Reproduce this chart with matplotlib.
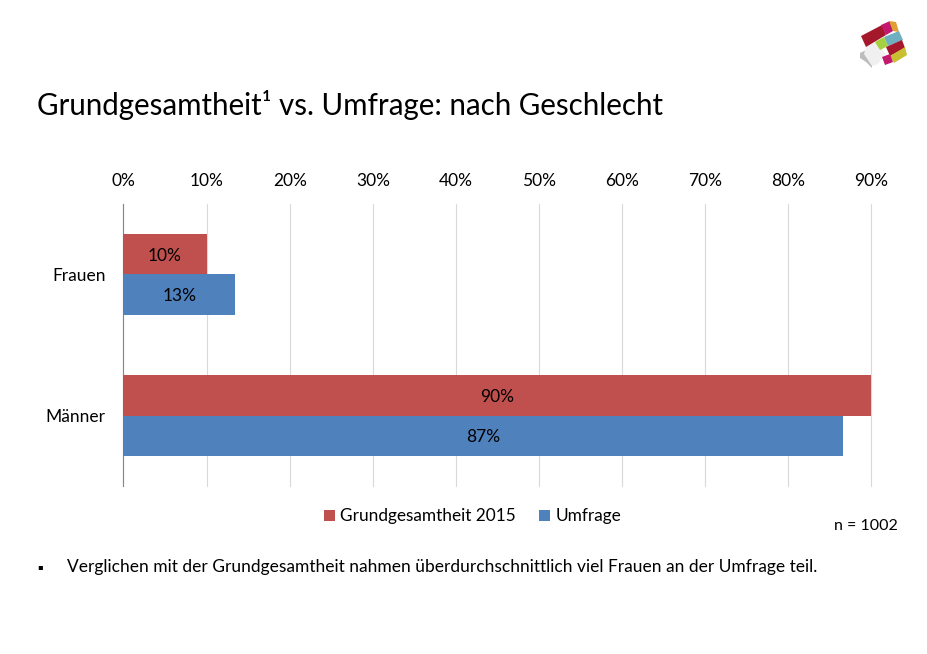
from matplotlib import pyplot as plt
from matplotlib.patches import Polygon

categories = ["Frauen", "Männer"]
grundgesamtheit = [10.0, 90.0]
umfrage = [13.4, 86.6]
grund_labels = ["10%", "90%"]
umfrage_labels = ["13%", "87%"]
x_ticks = [0, 10, 20, 30, 40, 50, 60, 70, 80, 90]

W = 928
H = 654
red = "#C0504D"
blue = "#4F81BD"
bar_h = 0.284

plt.rcParams["font.family"] = ["Lato", "DejaVu Sans"]
fig = plt.figure(figsize=(W / 100, H / 100), dpi=100, facecolor="white")

# full page layer in pixel coords for text and logo
page = fig.add_axes([0, 0, 1, 1])
page.set_xlim(0, W)
page.set_ylim(H, 0)
page.axis("off")

ax = fig.add_axes([123.5 / W, 1 - 486 / H, 748 / W, 282 / H])
y_pos = list(range(len(categories)))
ax.barh([y - bar_h / 2 for y in y_pos], grundgesamtheit, height=bar_h, color=red, label="Grundgesamtheit 2015", zorder=3)
ax.barh([y + bar_h / 2 for y in y_pos], umfrage, height=bar_h, color=blue, label="Umfrage", zorder=3)

for y, v, s in zip(y_pos, grundgesamtheit, grund_labels):
  ax.text(v / 2, y - bar_h / 2, s, ha="center", va="center_baseline", fontsize=12.5, color="black", zorder=4)
for y, v, s in zip(y_pos, umfrage, umfrage_labels):
  ax.text(v / 2, y + bar_h / 2, s, ha="center", va="center_baseline", fontsize=12.5, color="black", zorder=4)

ax.set_xlim(0, 90)
ax.set_ylim(1.5, -0.5)
ax.set_xticks(x_ticks)
ax.set_xticklabels([str(t) + "%" for t in x_ticks], fontsize=12.5)
ax.set_yticks(y_pos)
ax.set_yticklabels(categories, fontsize=12.5)
ax.xaxis.tick_top()
ax.tick_params(axis="x", length=0, pad=11)
ax.tick_params(axis="y", length=0, pad=13)
ax.grid(axis="x", color="#D9D9D9", linewidth=0.8, zorder=0, clip_on=False)
for side in ["top", "right", "bottom"]:
  ax.spines[side].set_visible(False)
ax.spines["left"].set_color("#868686")
ax.spines["left"].set_linewidth(0.8)

ax.legend(loc="center", bbox_to_anchor=(472.5, 516.5), bbox_transform=page.transData, ncol=2, frameon=False,
          fontsize=12.4, handlelength=0.65, handleheight=0.65, handletextpad=0.3, columnspacing=1.35,
          borderpad=0)

page.text(37, 105, "Grundgesamtheit¹ vs. Umfrage: nach Geschlecht", fontsize=21.25, va="center", ha="left")
page.text(898, 526, "n = 1002", fontsize=11.5, va="center", ha="right")
page.text(37, 567, "▪", fontsize=6, va="center", ha="left", family=["DejaVu Sans"])
page.text(67, 567, "Verglichen mit der Grundgesamtheit nahmen überdurchschnittlich viel Frauen an der Umfrage teil.",
          fontsize=12.5, va="center", ha="left")

# logo, made of small tilted blocks
logo = [
  ("#BDBDBD", [(860, 53), (866, 50), (872, 60), (872, 68), (866, 62), (860, 58)]),
  ("#F0F0F0", [(866, 47), (876, 42), (886, 54), (878, 64), (872, 66), (864, 54)]),
  ("#A5182B", [(861, 36), (882, 25), (886, 35), (866, 47)]),
  ("#C2186E", [(881, 25), (890, 21), (893, 31), (886, 35)]),
  ("#E0A030", [(889, 21), (896, 22), (899, 32), (893, 31)]),
  ("#6FB0C0", [(884, 37), (899, 31), (903, 40), (888, 46)]),
  ("#A5D040", [(875, 42), (884, 37), (888, 46), (880, 50)]),
  ("#A5182B", [(886, 47), (902, 40), (905, 48), (890, 56)]),
  ("#C8C030", [(890, 56), (905, 47), (907, 55), (894, 63)]),
  ("#C2186E", [(882, 57), (890, 54), (893, 62), (885, 65)]),
]
for color, pts in logo:
  page.add_patch(Polygon(pts, closed=True, facecolor=color, edgecolor="none"))

fig.savefig("out.png", dpi=100, facecolor="white")
